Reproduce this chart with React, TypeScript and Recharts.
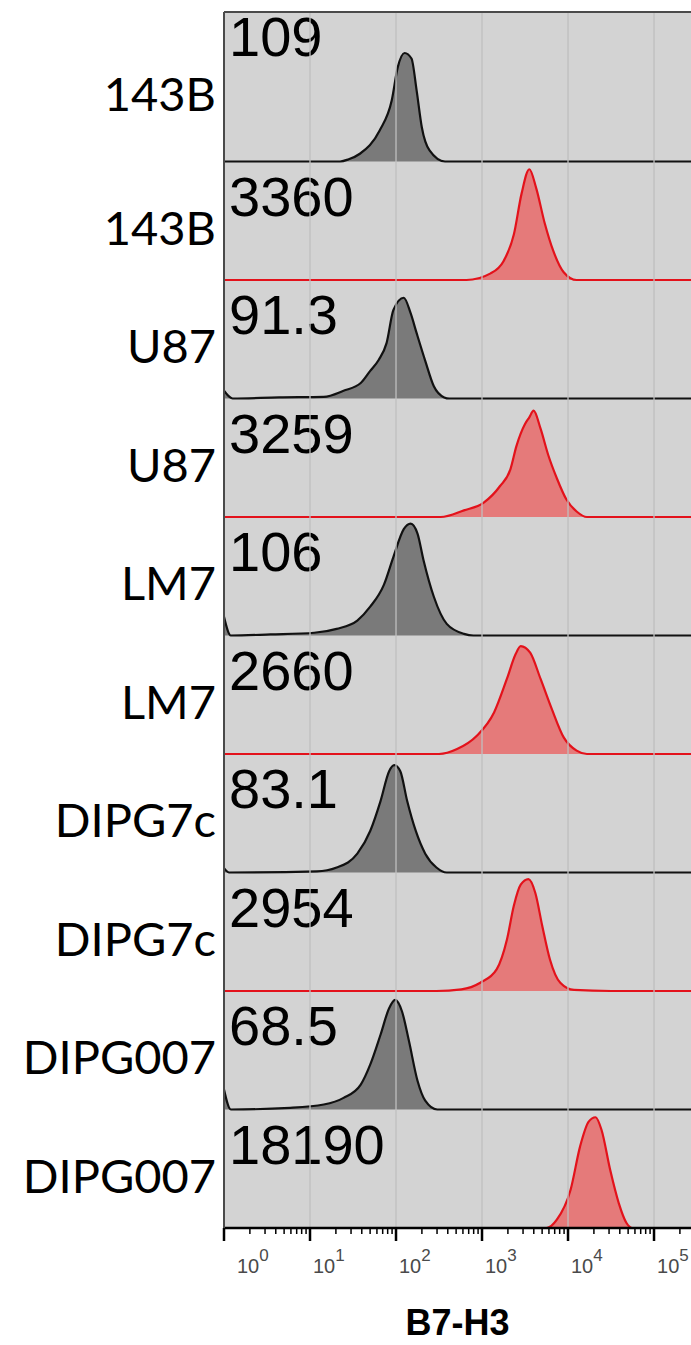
import React from 'react';
import {
  ComposedChart,
  Area,
  XAxis,
  YAxis,
  CartesianGrid,
  ReferenceLine,
  ReferenceArea,
} from 'recharts';

// ---------- data ----------
const CELL_LINES = ['143B', '143B', 'U87', 'U87', 'LM7', 'LM7', 'DIPG7c', 'DIPG7c', 'DIPG007', 'DIPG007'];
const MFI_LABELS = ['109', '3360', '91.3', '3259', '106', '2660', '83.1', '2954', '68.5', '18190'];
const IS_B7H3 = [false, true, false, true, false, true, false, true, false, true];
const DECADE_EXPONENTS = [0, 1, 2, 3, 4, 5];
const AXIS_TITLE = 'B7-H3';

// [log10 intensity, % of mode]
const HIST_143B_ISO: [number, number][] = [
  [0, 0], [1.35, 0], [1.45, 2], [1.58, 7], [1.81, 28], [1.95, 55], [2.02, 85], [2.1, 98], [2.18, 93],
  [2.24, 64], [2.3, 31], [2.39, 10], [2.57, 0], [5.43, 0],
];
const HIST_143B_B7H3: [number, number][] = [
  [0, 0], [2.82, 0], [3.1, 6], [3.25, 17], [3.37, 41], [3.46, 78], [3.55, 100], [3.63, 83], [3.73, 51],
  [3.83, 26], [3.95, 7], [4.1, 0], [5.43, 0],
];
const HIST_U87_ISO: [number, number][] = [
  [0, 7], [0.1, 0], [0.64, 1], [1.16, 1.5], [1.39, 7], [1.59, 14], [1.7, 25], [1.8, 35], [1.89, 50],
  [1.97, 80], [2.09, 91], [2.17, 77], [2.24, 59], [2.34, 34], [2.44, 11], [2.56, 1], [2.62, 0], [5.43, 0],
];
const HIST_U87_B7H3: [number, number][] = [
  [0, 0], [2.52, 0], [2.79, 6], [3.02, 13], [3.21, 28], [3.33, 43], [3.4, 64], [3.5, 84], [3.55, 90],
  [3.6, 96], [3.68, 80], [3.77, 56], [3.87, 35], [3.98, 16], [4.1, 5], [4.22, 0], [5.43, 0],
];
const HIST_LM7_ISO: [number, number][] = [
  [0, 17], [0.08, 0], [0.54, 1], [1.05, 2.5], [1.31, 6], [1.55, 13.5], [1.7, 26], [1.86, 46], [1.97, 71],
  [2.09, 96], [2.17, 101], [2.25, 92], [2.32, 68], [2.44, 35], [2.59, 10.5], [2.79, 1.5], [2.9, 0], [5.43, 0],
];
const HIST_LM7_B7H3: [number, number][] = [
  [0, 0], [2.5, 0], [2.71, 4.5], [2.94, 16.5], [3.14, 37.5], [3.29, 68], [3.39, 90], [3.45, 97.5],
  [3.56, 91.5], [3.68, 68], [3.81, 41], [3.95, 15], [4.1, 3], [4.22, 0], [5.43, 0],
];
const HIST_DIPG7C_ISO: [number, number][] = [
  [0, 4], [0.06, 0], [1.08, 1], [1.31, 4.5], [1.55, 17], [1.7, 37.5], [1.82, 64.5], [1.92, 91.5], [1.98, 97],
  [2.05, 91.5], [2.13, 64.5], [2.23, 37.5], [2.34, 17], [2.47, 4.5], [2.59, 0], [5.43, 0],
];
const HIST_DIPG7C_B7H3: [number, number][] = [
  [0, 0], [2.47, 0], [2.76, 1.5], [2.98, 7.5], [3.17, 19.5], [3.29, 46.5], [3.37, 77], [3.45, 96], [3.54, 101],
  [3.62, 88.5], [3.7, 59], [3.79, 28.5], [3.91, 7.5], [4.07, 1], [4.5, 0], [5.43, 0],
];
const HIST_DIPG007_ISO: [number, number][] = [
  [0, 18], [0.08, 0], [0.77, 1.5], [1.16, 4.5], [1.39, 10.5], [1.59, 22.5], [1.7, 40.5], [1.82, 67.5],
  [1.92, 91.5], [1.99, 99], [2.07, 88.5], [2.15, 62], [2.25, 26], [2.34, 8], [2.48, 0], [5.43, 0],
];
const HIST_DIPG007_B7H3: [number, number][] = [
  [0, 0], [3.75, 0], [3.87, 7.5], [4.03, 34.5], [4.14, 73.5], [4.24, 96], [4.32, 100], [4.39, 88.5],
  [4.49, 52.5], [4.59, 22.5], [4.68, 4.5], [4.75, 0], [5.43, 0],
];

const HISTOGRAMS = [
  HIST_143B_ISO, HIST_143B_B7H3, HIST_U87_ISO, HIST_U87_B7H3, HIST_LM7_ISO,
  HIST_LM7_B7H3, HIST_DIPG7C_ISO, HIST_DIPG7C_B7H3, HIST_DIPG007_ISO, HIST_DIPG007_B7H3,
];

// ---------- layout constants ----------
const X_MAX = 5.43;
const N = CELL_LINES.length;
const PANEL_SPAN = 107;
const TOP_PANEL_SPAN = 135;
const Y_TOP = (N - 1) * PANEL_SPAN + TOP_PANEL_SPAN;

const BASES = CELL_LINES.map((_, i) => (N - 1 - i) * PANEL_SPAN);
const TOPS = BASES.map((b, i) => (i === 0 ? Y_TOP : b + PANEL_SPAN));
const MIDS = BASES.map((b, i) => (b + TOPS[i]) / 2);

const X_TICKS: number[] = [];
DECADE_EXPONENTS.forEach((d) => {
  for (let k = 1; k <= 9; k++) {
    const t = d + Math.log10(k);
    if (t <= X_MAX + 1e-9) X_TICKS.push(t);
  }
});

const SERIES = HISTOGRAMS.map((h, i) => h.map(([v, p]) => ({ v, y: BASES[i] + p })));

const BG = '#d3d3d3';
const GRID = '#bfbfbf';
const BLACK = '#111111';
const RED = '#e3121b';

const XTick = (props: any) => {
  const { x, y, payload } = props;
  const v = payload.value as number;
  const major = Math.abs(v - Math.round(v)) < 1e-6;
  const exp = Math.round(v);
  return (
    <g>
      <line x1={x} x2={x} y1={y} y2={y + (major ? 13 : 6)} stroke="#000" strokeWidth={major ? 2.5 : 1.5} />
      {major && (
        <text
          x={x + (exp === 0 ? 13 : 3)}
          y={y + 45}
          fontFamily="'Liberation Sans', Arial, sans-serif"
          fontSize={20}
          fill="#4a4a4a"
        >
          10
          <tspan dy={-12} fontSize={17}>{String(DECADE_EXPONENTS[exp])}</tspan>
        </text>
      )}
    </g>
  );
};

const YTick = (props: any) => {
  const { x, y, payload } = props;
  let idx = 0;
  let best = Infinity;
  MIDS.forEach((m, i) => {
    const d = Math.abs(m - payload.value);
    if (d < best) {
      best = d;
      idx = i;
    }
  });
  return (
    <text
      x={x - 8}
      y={y + 24}
      textAnchor="end"
      fontFamily="Lato, 'Open Sans', sans-serif"
      fontSize={47}
      fill="#000"
    >
      {CELL_LINES[idx]}
    </text>
  );
};

const makeMfiLabel = (i: number) => (props: any) => {
  const vb = props.viewBox || {};
  const offset = i === 0 ? 3 : 13;
  return (
    <text
      x={vb.x + 5}
      y={vb.y + offset + 41}
      fontFamily="'Liberation Sans', Arial, sans-serif"
      fontSize={56}
      fill="#000"
    >
      {MFI_LABELS[i]}
    </text>
  );
};

const AxisTitle = (props: any) => {
  const vb = props.viewBox || {};
  return (
    <text
      x={vb.x + vb.width / 2}
      y={vb.y + 107}
      textAnchor="middle"
      fontFamily="'Liberation Sans', Arial, sans-serif"
      fontWeight="bold"
      fontSize={36}
      fill="#000"
    >
      {AXIS_TITLE}
    </text>
  );
};

export default function App() {
  return (
    <div style={{ position: 'absolute', left: 0, top: 0, width: 691, height: 1345, background: '#fff' }}>
      <ComposedChart width={691} height={1345} margin={{ top: 12, right: 0, left: 0, bottom: 0 }}>
        <CartesianGrid fill={BG} stroke="none" horizontal={false} vertical={false} />
        <XAxis
          type="number"
          dataKey="v"
          domain={[0, X_MAX]}
          allowDataOverflow
          ticks={X_TICKS}
          interval={0}
          tick={<XTick />}
          tickLine={false}
          tickSize={0}
          tickMargin={0}
          height={117}
          axisLine={{ stroke: '#000', strokeWidth: 2.5 }}
          label={AxisTitle}
        />
        <YAxis
          type="number"
          domain={[0, Y_TOP]}
          allowDataOverflow
          ticks={MIDS}
          interval={0}
          tick={<YTick />}
          tickLine={false}
          tickSize={0}
          tickMargin={0}
          width={224}
          axisLine={{ stroke: '#4a4a4a', strokeWidth: 2 }}
        />
        {DECADE_EXPONENTS.filter((d) => d > 0).map((d) => (
          <ReferenceLine key={'g' + d} x={d} stroke={GRID} strokeWidth={1.3} />
        ))}
        {SERIES.map((data, i) => (
          <Area
            key={'a' + i}
            data={data}
            dataKey="y"
            type="monotone"
            baseValue={BASES[i]}
            stroke={IS_B7H3[i] ? RED : BLACK}
            strokeWidth={2.2}
            fill={IS_B7H3[i] ? '#ff0000' : '#000000'}
            fillOpacity={0.42}
            dot={false}
            activeDot={false}
            isAnimationActive={false}
          />
        ))}
        {CELL_LINES.map((_, i) => (
          <ReferenceArea
            key={'r' + i}
            x1={0}
            x2={X_MAX}
            y1={BASES[i]}
            y2={TOPS[i]}
            fill="none"
            stroke="none"
            label={makeMfiLabel(i)}
          />
        ))}
        <ReferenceLine y={Y_TOP} stroke="#4a4a4a" strokeWidth={2} />
      </ComposedChart>
    </div>
  );
}
